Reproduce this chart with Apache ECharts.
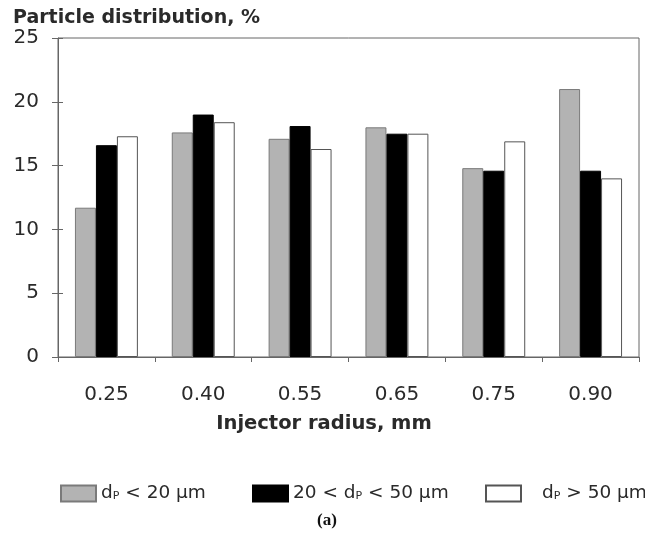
<!DOCTYPE html>
<html>
<head>
<meta charset="utf-8">
<script src="https://cdn.jsdelivr.net/npm/echarts@6/dist/echarts.min.js"></script>
<style>
  html, body { margin: 0; padding: 0; background: #fff; }
  #chart { width: 645px; height: 541px; }
</style>
</head>
<body>
<div id="chart"></div>
<script>
// Injector radius categories (mm)
const radii = ['0.25', '0.40', '0.55', '0.65', '0.75', '0.90'];

// Particle distribution (%) per size class
const fine   = [11.7, 17.6, 17.1, 18.0, 14.8, 21.0];   // dP < 20 µm
const medium = [16.6, 19.0, 18.1, 17.5, 14.6, 14.6];   // 20 < dP < 50 µm
const coarse = [17.3, 18.4, 16.3, 17.5, 16.9, 14.0];   // dP > 50 µm

const seriesNames = ['fine', 'medium', 'coarse'];
const legendLabels = {
  fine:   'd{sub|P} < 20 µm',
  medium: '20 < d{sub|P} < 50 µm',
  coarse: '{pad|}d{sub|P} > 50 µm'
};

const yTicks = { min: 0, max: 25, step: 5 };

const FONT = '"DejaVu Sans", "Liberation Sans", Arial, sans-serif';
const TEXT = '#2a2a2a';
const AXIS = '#666';
const chart = echarts.init(document.getElementById('chart'), null, { renderer: 'canvas' });

const barStyle = (fill, border) => ({ color: fill, borderColor: border, borderWidth: 1 });

// one legend block per size class so each key sits at its own spot
const legendAt = (name, left) => ({
  left: left, top: 479,
  icon: 'rect',
  itemWidth: 35, itemHeight: 16,
  data: [name],
  formatter: n => legendLabels[n],
  textStyle: {
    fontFamily: FONT, fontSize: 18.5, color: TEXT,
    rich: {
      sub: { fontFamily: FONT, fontSize: 11, color: TEXT, padding: [6, 0, 0, 0] },
      pad: { width: 16 }
    }
  }
});

chart.setOption({
  backgroundColor: '#ffffff',
  animation: false,
  title: [
    {
      text: 'Particle distribution, %',
      left: 8, top: 4,
      textStyle: { fontFamily: FONT, fontSize: 19, fontWeight: 'bold', color: TEXT }
    },
    {
      text: 'Injector radius, mm',
      left: 319, top: 409, textAlign: 'center',
      textStyle: { fontFamily: FONT, fontSize: 19.5, fontWeight: 'bold', color: TEXT }
    },
    {
      text: '(a)',
      left: 322, top: 507, textAlign: 'center',
      textStyle: { fontFamily: '"Liberation Serif", "Times New Roman", serif', fontSize: 17, fontWeight: 'bold', color: '#111' }
    }
  ],
  grid: {
    left: 58, right: 6, top: 38, bottom: 184,
    show: true, borderColor: AXIS, borderWidth: 1, backgroundColor: 'transparent'
  },
  legend: [
    legendAt('fine', 55),
    legendAt('medium', 247),
    legendAt('coarse', 480)
  ],
  xAxis: {
    type: 'category',
    data: radii,
    boundaryGap: true,
    axisLine: { lineStyle: { color: AXIS, width: 1 } },
    axisTick: { show: true, length: 5, alignWithLabel: false, lineStyle: { color: AXIS } },
    axisLabel: { fontFamily: FONT, fontSize: 20, color: TEXT, margin: 28 }
  },
  yAxis: [
    {
      type: 'value',
      min: yTicks.min, max: yTicks.max, interval: yTicks.step,
      splitLine: { show: false },
      axisLine: { show: true, lineStyle: { color: AXIS, width: 1 } },
      axisTick: { show: true, length: 6, lineStyle: { color: AXIS } },
      axisLabel: { fontFamily: FONT, fontSize: 20, color: TEXT, margin: 19 }
    },
    {
      // inner half of the crossing tick marks on the value axis
      type: 'value', position: 'left',
      min: yTicks.min, max: yTicks.max, interval: yTicks.step,
      splitLine: { show: false },
      axisLine: { show: false },
      axisTick: { show: true, inside: true, length: 5, lineStyle: { color: AXIS } },
      axisLabel: { show: false }
    }
  ],
  series: [
    { name: 'fine',   type: 'bar', data: fine,   barGap: '0%', barCategoryGap: '35%', itemStyle: barStyle('#b3b3b3', '#7a7a7a') },
    { name: 'medium', type: 'bar', data: medium, barGap: '0%', barCategoryGap: '35%', itemStyle: barStyle('#000000', '#000000') },
    { name: 'coarse', type: 'bar', data: coarse, barGap: '0%', barCategoryGap: '35%', itemStyle: barStyle('#ffffff', '#555555') }
  ]
});
</script>
</body>
</html>
